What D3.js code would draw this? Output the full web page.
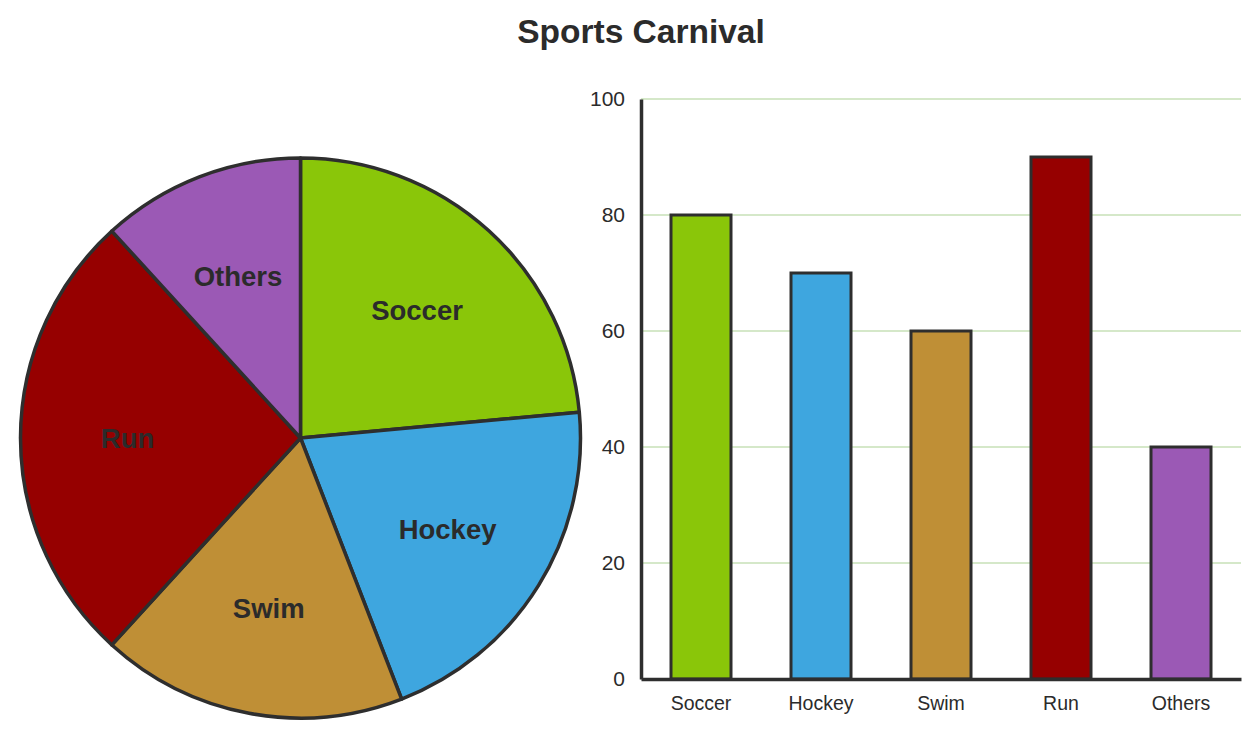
<!DOCTYPE html>
<html>
<head>
<meta charset="utf-8">
<script src="https://cdn.jsdelivr.net/npm/d3@7"></script>
<style>
  body { margin: 0; background: #fff; }
  text { font-family: "Liberation Sans", Arial, sans-serif; fill: #2b2b2b; }
</style>
</head>
<body>
<div class="js-canvas"></div>
<script>
'use strict';

// data
const categories = ['Soccer', 'Hockey', 'Swim', 'Run', 'Others'];
const values = [80, 70, 60, 90, 40];
const colors = ['#8ac609', '#3ea6df', '#bf8f36', '#960000', '#9b59b5'];
const yTicks = [0, 20, 40, 60, 80, 100];

const config = {
    width: 1259,
    height: 740,
    stroke: '#2e2e2e'
};

const svg = d3.select('.js-canvas')
    .append('svg')
    .attr('width', config.width)
    .attr('height', config.height);

svg.append('text')
    .attr('x', 641)
    .attr('y', 43)
    .attr('text-anchor', 'middle')
    .style('font-size', '33.5px')
    .style('font-weight', 'bold')
    .text('Sports Carnival');

const data = categories.map((c, i) => ({ name: c, value: values[i], color: colors[i] }));

// pie
const radius = 280;
const pieGroup = svg.append('g')
    .attr('transform', 'translate(300.5, 438)');

const pie = d3.pie().value(d => d.value).sort(null);
const arc = d3.arc().innerRadius(0).outerRadius(radius);
const labelArc = d3.arc().innerRadius(173).outerRadius(173);

const slices = pieGroup.selectAll('g.slice')
    .data(pie(data))
    .enter()
    .append('g')
    .attr('class', 'slice');

slices.append('path')
    .attr('d', arc)
    .attr('fill', d => d.data.color)
    .attr('stroke', config.stroke)
    .attr('stroke-width', 3.5)
    .attr('stroke-linejoin', 'round');

slices.append('text')
    .attr('transform', d => `translate(${labelArc.centroid(d)})`)
    .attr('text-anchor', 'middle')
    .attr('dy', '0.35em')
    .style('font-size', '27.5px')
    .style('font-weight', 'bold')
    .text(d => d.data.name);

// bars
const margin = { left: 641, right: 1241, top: 99, bottom: 679 };

const x = d3.scaleBand()
    .domain(categories)
    .range([margin.left, margin.right])
    .paddingInner(0.5)
    .paddingOuter(0.25);

const y = d3.scaleLinear()
    .domain([0, 100])
    .range([margin.bottom, margin.top]);

// gridlines
svg.append('g')
    .selectAll('line')
    .data(yTicks.filter(t => t > 0))
    .enter()
    .append('line')
    .attr('x1', margin.left)
    .attr('x2', margin.right)
    .attr('y1', d => y(d))
    .attr('y2', d => y(d))
    .attr('stroke', '#d5e8c9')
    .attr('stroke-width', 2);

svg.append('g')
    .selectAll('rect')
    .data(data)
    .enter()
    .append('rect')
    .attr('x', d => x(d.name))
    .attr('y', d => y(d.value))
    .attr('width', x.bandwidth())
    .attr('height', d => y(0) - y(d.value))
    .attr('fill', d => d.color)
    .attr('stroke', config.stroke)
    .attr('stroke-width', 3);

// axes
const yAxis = d3.axisLeft(y)
    .tickValues(yTicks)
    .tickSize(0)
    .tickPadding(16);

const yAxisGroup = svg.append('g')
    .attr('transform', `translate(${margin.left}, 0)`)
    .call(yAxis);
yAxisGroup.select('.domain').attr('stroke', config.stroke).attr('stroke-width', 3.5);
yAxisGroup.selectAll('text').style('font-size', '21px').attr('fill', '#2b2b2b');

const xAxis = d3.axisBottom(x)
    .tickSize(0)
    .tickPadding(17);

const xAxisGroup = svg.append('g')
    .attr('transform', `translate(0, ${margin.bottom})`)
    .call(xAxis);
xAxisGroup.select('.domain').attr('stroke', config.stroke).attr('stroke-width', 3.5);
xAxisGroup.selectAll('text').style('font-size', '19.5px').attr('fill', '#2b2b2b');
</script>
</body>
</html>
